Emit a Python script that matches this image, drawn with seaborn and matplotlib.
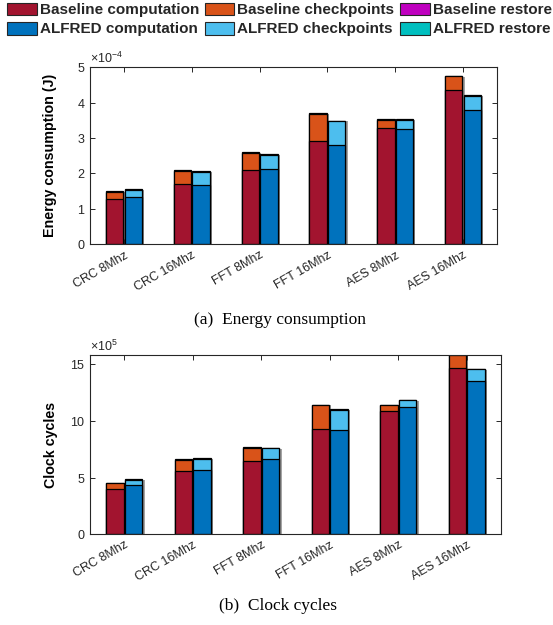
import numpy as np
import pandas as pd
import matplotlib
matplotlib.use("Agg")
import matplotlib.pyplot as plt
import matplotlib.patheffects as pe
from matplotlib.patches import Patch
from matplotlib.ticker import ScalarFormatter, MultipleLocator
import seaborn as sns

# Benchmarks (x categories)
benchmarks = ["CRC 8Mhz", "CRC 16Mhz", "FFT 8Mhz", "FFT 16Mhz", "AES 8Mhz", "AES 16Mhz"]
systems = ["Baseline", "ALFRED"]

# Energy consumption (J), split by phase
energy_base_comp = [1.27e-4, 1.70e-4, 2.10e-4, 2.92e-4, 3.28e-4, 4.36e-4]
energy_base_ckpt = [0.22e-4, 0.38e-4, 0.49e-4, 0.77e-4, 0.24e-4, 0.38e-4]
energy_base_rest = [0.01e-4, 0.01e-4, 0.01e-4, 0.01e-4, 0.01e-4, 0.01e-4]
energy_alf_comp = [1.33e-4, 1.67e-4, 2.12e-4, 2.80e-4, 3.26e-4, 3.80e-4]
energy_alf_ckpt = [0.21e-4, 0.38e-4, 0.41e-4, 0.68e-4, 0.26e-4, 0.39e-4]
energy_alf_rest = [0.01e-4, 0.01e-4, 0.01e-4, 0.01e-4, 0.01e-4, 0.01e-4]

# Clock cycles, split by phase
cyc_base_comp = [3.97e5, 5.56e5, 6.47e5, 9.29e5, 10.88e5, 14.70e5]
cyc_base_ckpt = [0.55e5, 1.02e5, 1.18e5, 2.10e5, 0.52e5, 1.10e5]
cyc_base_rest = [0.04e5, 0.04e5, 0.04e5, 0.05e5, 0.04e5, 0.05e5]
cyc_alf_comp = [4.35e5, 5.67e5, 6.62e5, 9.18e5, 11.26e5, 13.50e5]
cyc_alf_ckpt = [0.46e5, 1.00e5, 0.96e5, 1.80e5, 0.55e5, 1.05e5]
cyc_alf_rest = [0.04e5, 0.04e5, 0.04e5, 0.05e5, 0.04e5, 0.04e5]

colors = {
    "Baseline": {"comp": "#A2142F", "ckpt": "#D95319", "rest": "#BF00BF"},
    "ALFRED": {"comp": "#0072BD", "ckpt": "#4DBEEE", "rest": "#00BFBF"},
}

sns.set_theme(style="white")
plt.rcParams["font.family"] = ["Liberation Sans", "DejaVu Sans"]
plt.rcParams["mathtext.fontset"] = "custom"
plt.rcParams["mathtext.rm"] = "Liberation Sans"
plt.rcParams["mathtext.it"] = "Liberation Sans:italic"
plt.rcParams["mathtext.bf"] = "Liberation Sans:bold"

DARK = "#262626"


def build_frame(bc, bk, br, ac, ak, ar):
    rows = []
    for i, b in enumerate(benchmarks):
        for s, (c, k, r) in (("Baseline", (bc[i], bk[i], br[i])),
                             ("ALFRED", (ac[i], ak[i], ar[i]))):
            rows.append({"bench": b, "system": s,
                         "comp": c, "ckpt": c + k, "rest": c + k + r})
    return pd.DataFrame(rows)


def stacked(ax, df, ymax, power, major, ylabel, label_x):
    # draw cumulative layers from the top segment down
    for layer in ["rest", "ckpt", "comp"]:
        pal = {s: colors[s][layer] for s in systems}
        before = len(ax.patches)
        sns.barplot(data=df, x="bench", y=layer, hue="system", order=benchmarks,
                    hue_order=systems, palette=pal, width=0.55, gap=0.07,
                    edgecolor="black", linewidth=0.9, errorbar=None,
                    legend=False, saturation=1, ax=ax)
        if layer == "rest":
            for p in ax.patches[before:]:
                p.set_path_effects([pe.SimplePatchShadow(offset=(1.6, -0.6),
                                                         shadow_rgbFace="0.35",
                                                         alpha=0.55),
                                    pe.Normal()])
    ax.set_xlim(-0.5, len(benchmarks) - 0.5)
    ax.set_ylim(0, ymax)
    ax.yaxis.set_major_locator(MultipleLocator(major))
    fmt = ScalarFormatter(useMathText=True)
    fmt.set_powerlimits((power, power))
    ax.yaxis.set_major_formatter(fmt)
    ax.yaxis.get_offset_text().set_fontsize(9)
    ax.yaxis.get_offset_text().set_color(DARK)
    ax.set_xlabel("")
    ax.set_ylabel(ylabel, fontsize=10.3, fontweight="bold", color="black")
    ax.yaxis.set_label_coords(label_x, 0.5)
    ax.tick_params(axis="both", direction="in", length=3.5, width=0.7,
                   colors=DARK, labelsize=9, top=True, right=True,
                   bottom=True, left=True, labelcolor=DARK)
    for lbl in ax.get_xticklabels():
        lbl.set_rotation(30)
        lbl.set_ha("right")
        lbl.set_rotation_mode("anchor")
    for sp in ax.spines.values():
        sp.set_color(DARK)
        sp.set_linewidth(0.8)
        sp.set_visible(True)


fig = plt.figure(figsize=(5.53, 6.25), dpi=100)
ax1 = fig.add_axes([0.1627, 0.609, 0.736, 0.2837])
ax2 = fig.add_axes([0.1627, 0.1451, 0.7433, 0.2869])

df_energy = build_frame(energy_base_comp, energy_base_ckpt, energy_base_rest,
                        energy_alf_comp, energy_alf_ckpt, energy_alf_rest)
df_cycles = build_frame(cyc_base_comp, cyc_base_ckpt, cyc_base_rest,
                        cyc_alf_comp, cyc_alf_ckpt, cyc_alf_rest)

stacked(ax1, df_energy, 5e-4, -4, 1e-4, "Energy consumption (J)", -0.081)
stacked(ax2, df_cycles, 15.82e5, 5, 5e5, "Clock cycles", -0.078)

serif = ["Liberation Serif", "DejaVu Serif"]
fig.text(0.507, 0.488, "(a)  Energy consumption", ha="center", va="center",
         fontsize=12.5, family=serif, color="black")
fig.text(0.502, 0.030, "(b)  Clock cycles", ha="center", va="center",
         fontsize=12.5, family=serif, color="black")

labels = ["Baseline computation", "ALFRED computation",
          "Baseline checkpoints", "ALFRED checkpoints",
          "Baseline restore", "ALFRED restore"]
keys = [("Baseline", "comp"), ("ALFRED", "comp"),
        ("Baseline", "ckpt"), ("ALFRED", "ckpt"),
        ("Baseline", "rest"), ("ALFRED", "rest")]
handles = [Patch(facecolor=colors[s][k], edgecolor=DARK, linewidth=0.8)
           for s, k in keys]
fig.legend(handles, labels, ncol=3, loc="upper center",
           bbox_to_anchor=(0.505, 1.008), frameon=False,
           prop={"weight": "bold", "size": 11}, handlelength=1.95,
           handleheight=0.9, handletextpad=0.2, columnspacing=0.35,
           labelspacing=0.3, borderaxespad=0.1)

fig.savefig("out.png", dpi=100)
